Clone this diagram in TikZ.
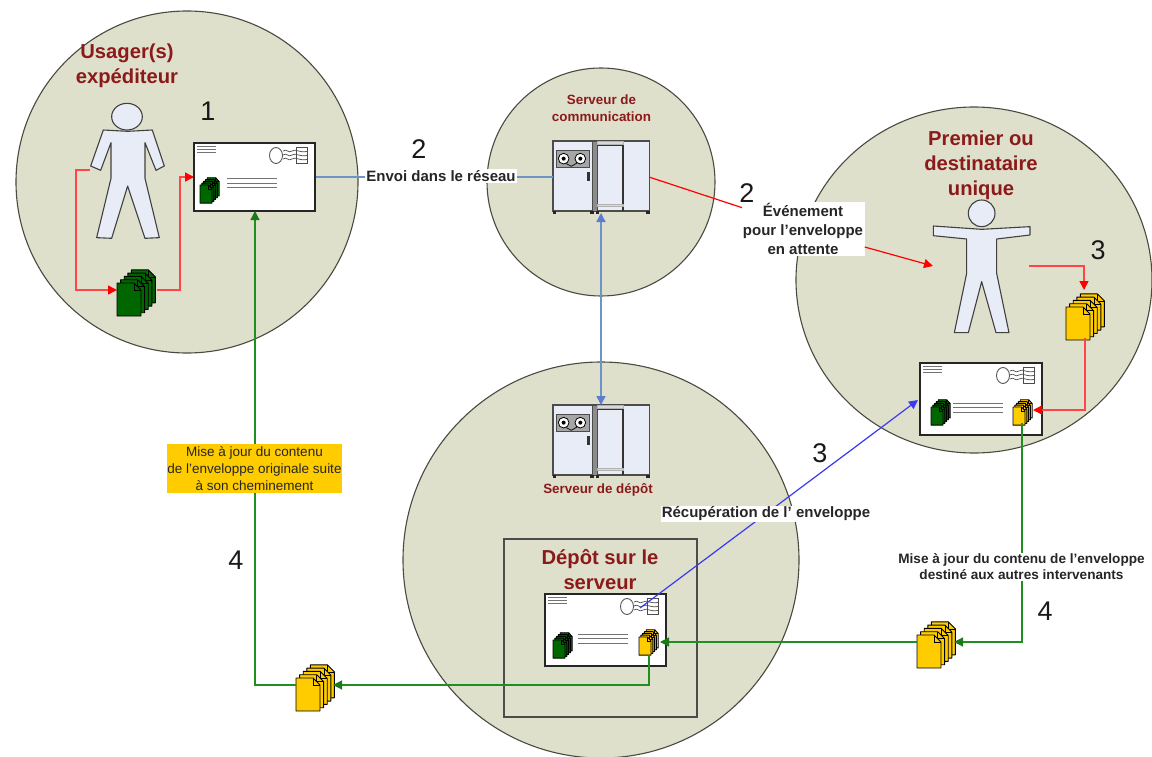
\documentclass[tikz,border=0pt]{standalone}
\usepackage{fontspec}
\setmainfont{Liberation Sans}
\usetikzlibrary{arrows.meta}
\definecolor{zone}{HTML}{DFE0CC}
\definecolor{zoneline}{HTML}{4A4A40}
\definecolor{body}{HTML}{E8ECF6}
\definecolor{title}{HTML}{8B1A1A}
\definecolor{docgreen}{HTML}{006600}
\definecolor{docyellow}{HTML}{FFCC00}
\definecolor{redl}{HTML}{FF4545}
\definecolor{greenl}{HTML}{1F9020}
\definecolor{bluel}{HTML}{6C94C6}
\definecolor{blued}{HTML}{3A3AF0}
\tikzset{
  zonecircle/.style={draw=zoneline,line width=1.1pt,fill=zone},
  persona/.style={draw=black!75,fill=body,line width=1.1pt,line join=round},
  num/.style={font=\fontsize{27}{27}\selectfont,text=black!90,inner sep=0pt},
  ttl/.style={font=\bfseries\fontsize{20.2}{25}\selectfont,text=title,align=center,inner sep=0pt},
  ttlsmall/.style={font=\bfseries\fontsize{13.4}{17}\selectfont,text=title,align=center,inner sep=0pt},
  lbl/.style={font=\bfseries\fontsize{15}{18.7}\selectfont,align=center,fill=white,inner sep=1pt,text=black!85},
  lblsmall/.style={font=\bfseries\fontsize{13.6}{16}\selectfont,align=center,fill=white,inner sep=1pt,text=black!85},
  redc/.style={draw=redl,line width=1.4pt},
  greenc/.style={draw=greenl,line width=1.15pt},
  bluec/.style={draw=bluel,line width=1.5pt},
  bluedc/.style={draw=blued,line width=1.2pt},
  redtip/.style={-{Triangle[length=9pt,width=9pt,color=red]}},
  greentip/.style={-{Triangle[length=9pt,width=9pt,color=greenl!85!black]}},
}
% docs stack: #1 x, #2 y of the front doc, #3 scale x, #4 colour, #5 scale y
\newcommand{\docstack}[5]{%
  \begin{scope}[shift={(#1,#2)},x=#3pt,y=-#5pt]
    \foreach \k in {4,3,2,1,0}{
      \draw[fill=#4,draw=black,line width=0.9pt,line join=round]
        (3.6*\k,-3.3*\k) -- ++(17,0) -- ++(7,7) -- ++(0,26) -- ++(-24,0) -- cycle;
      \draw[draw=black,line width=0.6pt] (3.6*\k+17,-3.3*\k) -- ++(0,7) -- ++(7,0);
    }
  \end{scope}}
% envelope: #1 x, #2 y, #3 width, #4 height, #5 x of green stack, #6 y of green stack
\newcommand{\envelope}[6]{%
  \begin{scope}[shift={(#1,#2)}]
    \draw[fill=white,draw=black!85,line width=1.1pt] (0,0) rectangle (#3,#4);
    \draw[black!55,line width=0.9pt] (3,3.5)--(22,3.5) (3,6.5)--(22,6.5) (3,9.5)--(22,9.5);
    \begin{scope}[shift={(#3-121,0)}]
      \draw[black!65,line width=0.9pt,fill=white] (82,12.5) ellipse (6.5 and 8);
      \draw[black!70,line width=0.7pt,fill=white] (102,4.5) rectangle (113,20);
      \foreach \t in {8,12,16}{
        \draw[black!70,line width=0.7pt] (89,\t) .. controls (93,\t-3) and (94,\t+3) .. (98,\t) .. controls (102,\t-3) and (106,\t+3) .. (114,\t);
      }
    \end{scope}
    \draw[black!55,line width=1pt] (33,#4-32)--(83,#4-32) (33,#4-27.5)--(83,#4-27.5) (33,#4-23)--(83,#4-23);
    \docstack{#5}{#6}{0.5}{docgreen}{0.55}
  \end{scope}}
% server: #1 x, #2 y
\newcommand{\server}[2]{%
  \begin{scope}[shift={(#1,#2)},x=0.3333pt,y=-0.3333pt]
    \draw[draw=black!70,fill=body,line width=1.1pt] (0,0) rectangle (290,210);
    \draw[fill=black!45,draw=black!70,line width=0.6pt] (118,0) rectangle (132,210);
    \draw[draw=black!80,line width=1.1pt] (210,0)--(210,210);
    \draw[draw=black!80,line width=1pt] (132,14)--(210,14) (132,197)--(210,197);
    \draw[draw=black!30,fill=black!15,line width=0.4pt] (132,0) rectangle (210,10);
    \draw[draw=black!30,fill=black!15,line width=0.4pt] (132,190) rectangle (210,197);
    \draw[fill=black!35,draw=black!70,line width=0.6pt] (9,28) rectangle (109,78);
    \foreach \cx in {32,82}{
      \draw[fill=white,draw=black,line width=0.8pt] (\cx,53) circle (16);
      \fill[black] (\cx,53) circle (6);
    }
    \draw[black,line width=0.7pt] (40,68) -- (55,76) -- (72,66);
    \fill[black!80] (102,92) rectangle (110,120);
    \foreach \fx in {0,112,128,280}{\fill[black!85] (\fx,210) rectangle (\fx+10,218);}
  \end{scope}}
\begin{document}
\begin{tikzpicture}[x=1pt,y=-1pt]
\useasboundingbox (0,0) rectangle (1152,757);
\fill[white] (0,0) rectangle (1152,757);
% zones
\draw[zonecircle] (187,182) circle (171);
\draw[zonecircle] (601,182) circle (114);
\draw[zonecircle] (974,280) ellipse (178 and 173);
\draw[zonecircle] (601,560) circle (198);
\draw[draw=black!70,line width=1.3pt] (504,539) rectangle (697,717);
% titles
\node[ttl] (t1) at (127,66) {Usager(s)\\expéditeur};
\node[ttlsmall] (t2) at (601.5,108.5) {Serveur de\\communication};
\node[ttl] (t3) at (981,165) {Premier ou\\destinataire\\unique};
\node[ttl] (t4) at (600,569.5) {Dépôt sur le\\serveur};
\node[ttlsmall] (t5) at (598,489.5) {Serveur de dépôt};
% servers
\server{553}{141}
\server{553}{405}
\coordinate (srv1L) at (553,177);
\coordinate (srv1R) at (649,177);
\coordinate (srv1B) at (601,213);
\coordinate (srv2T) at (601,405);
% persons
\begin{scope}[shift={(60,90)},x=0.3333pt,y=-0.3333pt]
  \draw[persona] (201,80) ellipse (46 and 40);
  \draw[persona] (130,120) -- (203,124) -- (277,120) -- (313,228) -- (288,241) -- (255,158) -- (255,265) -- (298,443) -- (255,445) -- (203,288) -- (155,445) -- (110,443) -- (153,265) -- (153,158) -- (122,241) -- (92,228) -- cycle;
\end{scope}
\begin{scope}[shift={(900,190)},x=0.3333pt,y=-0.3333pt]
  \draw[persona] (245,70) circle (40);
  \draw[persona] (100,108) -- (245,118) -- (390,110) -- (390,135) -- (290,147) -- (290,250) -- (327,428) -- (288,428) -- (245,275) -- (205,428) -- (163,428) -- (200,250) -- (200,147) -- (100,137) -- cycle;
\end{scope}
% connectors under
\coordinate (p1out) at (90,170);
\coordinate (s1in) at (117,290);
\coordinate (s1out) at (157,290);
\coordinate (e1in) at (194,177);
\draw[redc,redtip] (p1out) -- (76,170) -- (76,290) -- (s1in);
\draw[redc,redtip] (s1out) -- (180,290) -- (180,177) -- (e1in);
\draw[bluec] (315,177) -- (srv1L);
\draw[bluec,{Triangle[length=9pt,width=9pt,color=bluel!85!blue]}-{Triangle[length=9pt,width=9pt,color=bluel!85!blue]}] (srv1B) -- (srv2T);
% envelopes
\envelope{194}{143}{121}{68}{6}{42}
\envelope{920}{363}{122}{72}{11}{44}
\envelope{545}{594}{121}{72}{8}{46}
\docstack{1013}{407}{0.5}{docyellow}{0.55}
\docstack{639}{637}{0.5}{docyellow}{0.55}
% stacks
\docstack{117}{283}{1}{docgreen}{1}
\docstack{1066}{307}{1}{docyellow}{1}
\docstack{917}{635}{1}{docyellow}{1}
\docstack{296}{678}{1}{docyellow}{1}
% flows
\draw[greenc,greentip] (296,685) -- (255,685) -- (255,211);
\draw[greenc,greentip] (649,655) -- (649,685) -- (333,685);
\draw[greenc,greentip] (917,642) -- (660,642);
\draw[greenc,greentip] (1022,423) -- (1022,642) -- (954,642);
\draw[redc,redtip] (1029,266) -- (1084,266) -- (1084,290);
\draw[redc,redtip] (1085,338) -- (1085,410) -- (1033,410);
\draw[draw=red,line width=1.2pt] (srv1R) -- (743,208);
\draw[bluedc,-{Triangle[length=9pt,width=9pt,color=blued]}] (640,608) -- (918,400);
% labels
\node[lbl] (envoi) at (441,176) {Envoi dans le réseau};
\node[lbl,inner sep=0pt,minimum width=123pt,minimum height=54pt] (evt) at (803,229) {Événement\\pour l’enveloppe\\en attente};
\draw[draw=red,line width=1.2pt,-{Triangle[length=9pt,width=9pt,color=red]}] (evt.east |- 0,247) -- (933,266);
\node[lbl] (recup) at (766,514) {Récupération de l’ enveloppe};
\node[lblsmall] (maj2) at (1021.5,567) {Mise à jour du contenu de l’enveloppe\\destiné aux autres intervenants};
\node[fill=docyellow,font=\fontsize{13.5}{16.7}\selectfont,text=black!85,align=center,minimum width=175pt,minimum height=49pt,inner sep=0pt] (maj1) at (254.5,468.5) {Mise à jour du contenu\\de l'enveloppe originale suite\\à son cheminement};
% numbers
\node[num] (n1) at (208,111) {1};
\node[num] (n2a) at (419,149) {2};
\node[num] (n2b) at (747,193) {2};
\node[num] (n3a) at (1098,250) {3};
\node[num] (n3b) at (820,453) {3};
\node[num] (n4a) at (236,560) {4};
\node[num] (n4b) at (1045,611) {4};
\end{tikzpicture}
\end{document}
